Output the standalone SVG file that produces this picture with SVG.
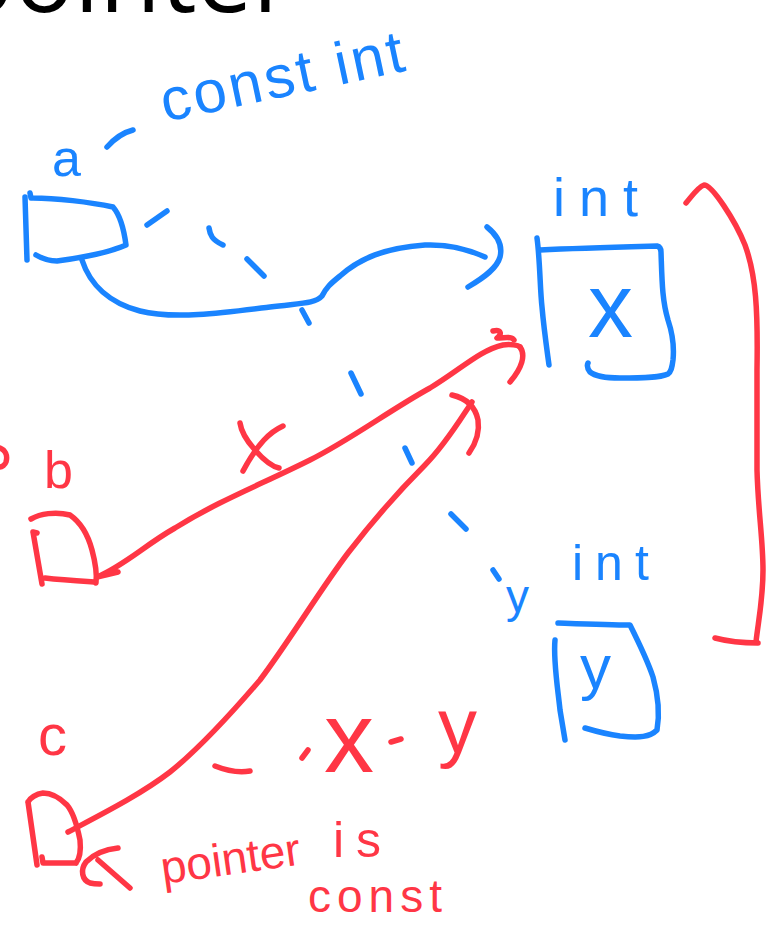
<svg xmlns="http://www.w3.org/2000/svg" width="781" height="929" viewBox="0 0 781 929">
<style>
.b{fill:none;stroke:#1a84ff;stroke-width:5.5;stroke-linecap:round;stroke-linejoin:round}
.r{fill:none;stroke:#ff3645;stroke-width:5.5;stroke-linecap:round;stroke-linejoin:round}
.tb{fill:#1a84ff;font-family:"Liberation Sans",Arial,sans-serif}
.tr{fill:#ff3645;font-family:"Liberation Sans",Arial,sans-serif}
.title{fill:#000;font-family:"Open Sans","Liberation Sans",sans-serif;font-size:100px}
</style>
<rect width="781" height="929" fill="#fff"/>
<text class="title" x="-47" y="12">pointer</text>

<g id="node-a">
<path class="b" d="M25,197 L27,260 M30,193 L31,198 M33,198 C55,198 90,202 113,207 C120,215 124,230 126,245 C110,252 80,258 57,261 C48,261 41,258 36,255"/>
<text class="tb" x="52" y="176" font-size="52">a</text>
<path class="b" d="M107,147 C115,138 125,132 133,130"/>
<text class="tb" x="165" y="122" font-size="60" letter-spacing="3" transform="rotate(-12 165 122)">const int</text>
</g>

<g id="node-x">
<path class="b" d="M537,238 C540,260 540,290 542,307 C544,330 547,350 549,365 M540,250 C580,248 620,247 657,246 C661,247 661,250 661,252 C662,280 662,300 668,320 C673,335 674,350 673,360 C672,368 671,372 668,374 C660,378 640,378 620,378 C605,378 595,376 590,372 C587,368 587,365 588,363"/>
<text class="tb" x="588" y="337" font-size="90">x</text>
<text class="tb" x="553" y="216" font-size="54" letter-spacing="14">int</text>
</g>

<g id="node-y">
<path class="b" d="M555,640 C553,660 558,690 560,710 L565,740 M558,623 C585,624 610,625 630,625 C640,645 648,662 653,677 C658,695 660,713 657,730 C650,737 640,738 620,736 C605,734 595,731 585,728"/>
<text class="tb" x="580" y="688" font-size="62">y</text>
<text class="tb" x="572" y="580" font-size="50" letter-spacing="12">int</text>
</g>

<g id="node-b">
<path class="r" d="M31,519 C40,514 55,511 70,515 C80,522 88,535 92,550 C96,565 97,575 96,583 M33,532 L42,584 M33,532 L37,533 M45,578 C62,580 80,581 96,582"/>
<text class="tr" x="44" y="488" font-size="52">b</text>
<path class="r" d="M0,448 C5,450 8,455 6,462 C5,465 2,467 0,467"/>
</g>

<g id="node-c">
<path class="r" d="M28,802 C30,798 36,794 43,793 C52,793 60,798 67,805 C73,812 77,825 80,840 C81,850 80,858 76,863 M28,802 L37,865 M42,857 L43,863 L76,863"/>
<text class="tr" x="38" y="755" font-size="58">c</text>
<path class="r" d="M215,766 C225,770 238,773 250,771 M302,758 L308,750 M391,742 L401,739"/>
<text class="tr" x="324" y="772" font-size="100">x</text>
<text class="tr" x="438" y="753" font-size="78">y</text>
<path class="r" d="M118,848 C108,849 95,853 86,862 C80,870 82,880 90,883 C94,884 98,884 100,884 M98,860 L130,888"/>
<text class="tr" x="163" y="884" font-size="46" transform="rotate(-8 163 884)">pointer</text>
<text class="tr" x="333" y="857" font-size="50" letter-spacing="12">is</text>
<text class="tr" x="308" y="912" font-size="46" letter-spacing="6">const</text>
</g>

<g id="connectors">
<path class="b" d="M82,260 C90,285 110,303 140,311 C175,320 230,312 270,307 C300,303 315,304 322,296 C326,288 330,284 340,276 C360,258 385,248 425,245 C450,244 470,250 485,257"/>
<path class="b" d="M487,227 C497,235 503,245 500,257 C497,268 485,277 468,287"/>
<path class="b" d="M147,225 L167,211 M209,228 C210,235 212,240 223,245 M247,259 L264,276 M302,310 L309,323 M351,373 L361,394 M405,448 L412,463 M451,514 L466,529 M493,570 L499,579"/>
<text class="tb" x="506" y="612" font-size="46">y</text>
<path class="r" d="M97,577 C125,565 145,545 175,528 C220,500 260,485 310,460 C350,440 390,410 430,388 C460,370 480,350 503,345 C510,344 518,345 520,347 M97,577 L118,572"/>
<path class="r" d="M520,347 C526,355 522,368 510,382 M493,331 C500,329 503,333 497,338 C505,338 512,336 514,340"/>
<path class="r" d="M240,423 C241,430 246,440 255,450 C262,458 270,466 279,468 M283,426 C270,432 258,443 243,471"/>
<path class="r" d="M68,832 C100,815 140,795 170,772 C200,748 230,715 260,680 C290,640 320,590 348,553 C375,518 400,490 425,465 C445,445 460,420 472,402"/>
<path class="r" d="M452,395 C465,398 475,405 478,420 C480,433 476,443 469,453"/>
<path class="r" d="M686,203 C692,196 698,187 704,185 C712,185 735,220 745,245 C756,275 758,310 757,370 L757,470 C758,510 763,540 763,570 C763,600 758,623 756,642 M715,638 C730,642 745,643 758,643"/>
</g>
</svg>
